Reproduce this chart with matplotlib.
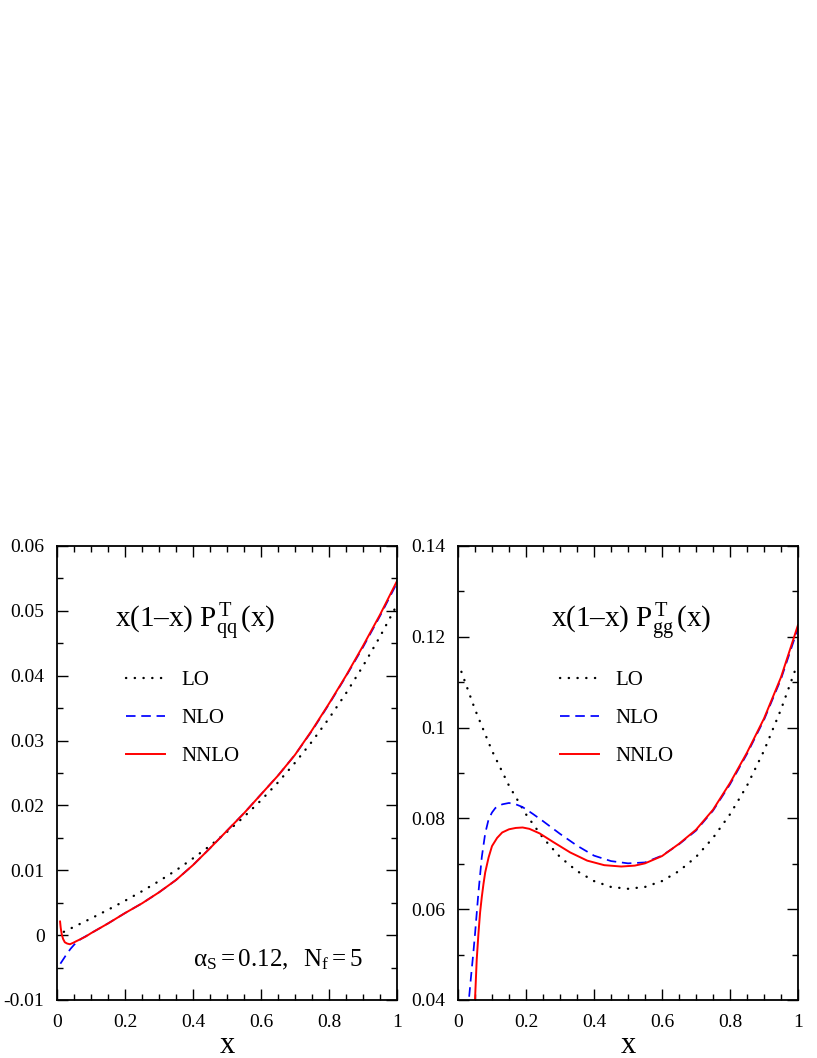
import matplotlib
matplotlib.use("Agg")
import matplotlib.pyplot as plt
from matplotlib.ticker import MultipleLocator, FixedLocator, FixedFormatter

plt.rcParams['font.family'] = ['Liberation Serif', 'DejaVu Serif']
plt.rcParams['mathtext.fontset'] = 'custom'
plt.rcParams['mathtext.rm'] = 'Liberation Serif'
plt.rcParams['mathtext.it'] = 'Liberation Serif:italic'
plt.rcParams['axes.unicode_minus'] = False

# ---------------- data: left panel  x(1-x) P_qq^T(x) ----------------
qq_lo_x = [0.02, 0.05, 0.1, 0.15, 0.2, 0.25, 0.3, 0.35, 0.4, 0.45, 0.5, 0.55,
           0.6, 0.65, 0.7, 0.75, 0.8, 0.85, 0.9, 0.95, 1.0]
qq_lo_y = [0.00051, 0.00128, 0.00257, 0.00391, 0.00530, 0.00677, 0.00833, 0.00999,
           0.01184, 0.01378, 0.01592, 0.01825, 0.02078, 0.02355, 0.02658, 0.02985,
           0.03342, 0.03729, 0.04149, 0.04603, 0.05094]

qq_nlo_x = [0.01, 0.02, 0.03, 0.04, 0.05, 0.06, 0.07, 0.08, 0.1, 0.15, 0.2, 0.25,
            0.3, 0.35, 0.4, 0.45, 0.5, 0.55, 0.6, 0.65, 0.7, 0.75, 0.8, 0.85,
            0.9, 0.95, 1.0]
qq_nlo_y = [-0.0044, -0.0036, -0.0028, -0.0021, -0.0015, -0.0010, -0.0006, -0.0003,
            0.0003, 0.0018, 0.0034, 0.0049, 0.0066, 0.0085, 0.0108, 0.0134, 0.0161,
            0.0188, 0.0217, 0.0246, 0.0278, 0.0315, 0.0356, 0.0399, 0.0444, 0.0492,
            0.0543]

qq_nnlo_x = [0.009, 0.011, 0.014, 0.018, 0.023, 0.03, 0.038, 0.047, 0.058, 0.07,
             0.085, 0.1, 0.15, 0.2, 0.25, 0.3, 0.35, 0.4, 0.45, 0.5, 0.55, 0.6,
             0.65, 0.7, 0.75, 0.8, 0.85, 0.9, 0.95, 1.0]
qq_nnlo_y = [0.0021, 0.0011, 0.0001, -0.0006, -0.0011, -0.0013, -0.0014, -0.0012,
             -0.0009, -0.0006, -0.0002, 0.0003, 0.0018, 0.0034, 0.0049, 0.0066,
             0.0085, 0.0108, 0.0134, 0.0161, 0.0188, 0.0217, 0.0246, 0.0278,
             0.0316, 0.0357, 0.0400, 0.0446, 0.0494, 0.0546]

# ---------------- data: right panel  x(1-x) P_gg^T(x) ----------------
gg_lo_x = [0.01, 0.05, 0.1, 0.15, 0.2, 0.25, 0.3, 0.35, 0.4, 0.45, 0.5, 0.55, 0.6,
           0.65, 0.7, 0.75, 0.8, 0.85, 0.9, 0.95, 0.99]
gg_lo_y = [0.1123, 0.1040, 0.0949, 0.0872, 0.0809, 0.0757, 0.0715, 0.0684, 0.0662,
           0.0649, 0.0645, 0.0649, 0.0662, 0.0684, 0.0715, 0.0757, 0.0809, 0.0872,
           0.0949, 0.1040, 0.1123]

gg_nlo_x = [0.028, 0.0324, 0.04, 0.045, 0.05, 0.06, 0.07, 0.08, 0.09, 0.1, 0.11,
            0.13, 0.15, 0.17, 0.19, 0.22, 0.25, 0.3, 0.35, 0.4, 0.45, 0.5, 0.55,
            0.6, 0.65, 0.7, 0.75, 0.8, 0.85, 0.9, 0.95, 1.0]
gg_nlo_y = [0.0340, 0.0404, 0.0465, 0.0503, 0.0545, 0.0636, 0.0715, 0.0767, 0.0798,
            0.0813, 0.0823, 0.0831, 0.0834, 0.0831, 0.0825, 0.0810, 0.0794, 0.0766,
            0.0740, 0.0718, 0.0706, 0.0701, 0.0703, 0.0718, 0.0743, 0.0773, 0.0817,
            0.0875, 0.0942, 0.1017, 0.1107, 0.1219]

gg_nnlo_x = [0.045, 0.05, 0.055, 0.06, 0.065, 0.07, 0.075, 0.08, 0.09, 0.1, 0.115,
             0.13, 0.15, 0.17, 0.19, 0.21, 0.24, 0.28, 0.33, 0.38, 0.43, 0.48, 0.52,
             0.55, 0.6, 0.65, 0.7, 0.75, 0.8, 0.85, 0.9, 0.95, 1.0]
gg_nnlo_y = [0.0300, 0.0400, 0.0488, 0.0545, 0.0593, 0.0627, 0.0656, 0.0681, 0.0714,
             0.0739, 0.0757, 0.0769, 0.0776, 0.0779, 0.0780, 0.0777, 0.0767, 0.0748,
             0.0725, 0.0707, 0.0697, 0.0694, 0.0696, 0.0701, 0.0717, 0.0744, 0.0775,
             0.0819, 0.0878, 0.0945, 0.1020, 0.1111, 0.1226]

x_ticks = [0, 0.2, 0.4, 0.6, 0.8, 1.0]
x_ticklabels = ["0", "0.2", "0.4", "0.6", "0.8", "1"]
qq_yticks = [-0.01, 0, 0.01, 0.02, 0.03, 0.04, 0.05, 0.06]
qq_yticklabels = ["-0.01", "0", "0.01", "0.02", "0.03", "0.04", "0.05", "0.06"]
gg_yticks = [0.04, 0.06, 0.08, 0.1, 0.12, 0.14]
gg_yticklabels = ["0.04", "0.06", "0.08", "0.1", "0.12", "0.14"]
series_labels = ["LO", "NLO", "NNLO"]

fig = plt.figure(figsize=(8.17, 10.58), dpi=100)
W, H = 817.0, 1058.0
axL = fig.add_axes([57 / W, 1 - 1000 / H, 340 / W, 454 / H])
axR = fig.add_axes([458 / W, 1 - 1000 / H, 340 / W, 454 / H])

dot_style = dict(color='black', lw=1.7, linestyle=(0, (0.1, 3.6)), dash_capstyle='round')
dash_style = dict(color='#0000ff', lw=1.25, linestyle=(0, (5.5, 3.3)))
solid_style = dict(color='#ff0000', lw=1.4)


def setup(ax, yticks, ylabels, ylim, yminor):
    ax.set_xlim(0, 1)
    ax.set_ylim(*ylim)
    ax.xaxis.set_major_locator(FixedLocator(x_ticks))
    ax.xaxis.set_major_formatter(FixedFormatter(x_ticklabels))
    ax.xaxis.set_minor_locator(MultipleLocator(0.05))
    ax.yaxis.set_major_locator(FixedLocator(yticks))
    ax.yaxis.set_major_formatter(FixedFormatter(ylabels))
    ax.yaxis.set_minor_locator(MultipleLocator(yminor))
    ax.tick_params(which='both', direction='in', top=True, right=True,
                   labelsize=14, width=1.0, colors='black')
    ax.tick_params(which='major', length=8)
    ax.tick_params(which='minor', length=4)
    ax.tick_params(axis='y', pad=9)
    ax.tick_params(axis='x', pad=10)
    for s in ax.spines.values():
        s.set_linewidth(1.3)
    ax.set_xlabel('x', fontsize=22, labelpad=0)


setup(axL, qq_yticks, qq_yticklabels, (-0.01, 0.06), 0.005)
setup(axR, gg_yticks, gg_yticklabels, (0.04, 0.14), 0.01)

lo1, = axL.plot(qq_lo_x, qq_lo_y, **dot_style)
nlo1, = axL.plot(qq_nlo_x, qq_nlo_y, **dash_style)
nnlo1, = axL.plot(qq_nnlo_x, qq_nnlo_y, **solid_style)

lo2, = axR.plot(gg_lo_x, gg_lo_y, **dot_style)
nlo2, = axR.plot(gg_nlo_x, gg_nlo_y, **dash_style)
nnlo2, = axR.plot(gg_nnlo_x, gg_nnlo_y, **solid_style)

leg_kw = dict(frameon=False, fontsize=15, handlelength=1.85, handletextpad=0.8,
              labelspacing=0.88, loc='upper left', borderaxespad=0, borderpad=0)
axL.legend([lo1, nlo1, nnlo1], series_labels, bbox_to_anchor=(0.203, 0.726), **leg_kw)
axR.legend([lo2, nlo2, nnlo2], series_labels, bbox_to_anchor=(0.300, 0.726), **leg_kw)

DASH = "\u2013"
title_qq = r'$\mathrm{x(1' + DASH + r'x)\ P^{\,T}_{qq}\,(x)}$'
title_gg = r'$\mathrm{x(1' + DASH + r'x)\ P^{\,T}_{gg}\,(x)}$'
axL.text(0.17, 0.832, title_qq, transform=axL.transAxes,
         fontsize=21, ha='left', va='center')
axR.text(0.273, 0.832, title_gg, transform=axR.transAxes,
         fontsize=21, ha='left', va='center')
axL.text(0.40, 0.088, r'$\mathrm{\alpha_S = 0.12,\ \ N_f = 5}$', transform=axL.transAxes,
         fontsize=18, ha='left', va='center')

fig.savefig('out.png', dpi=100)
